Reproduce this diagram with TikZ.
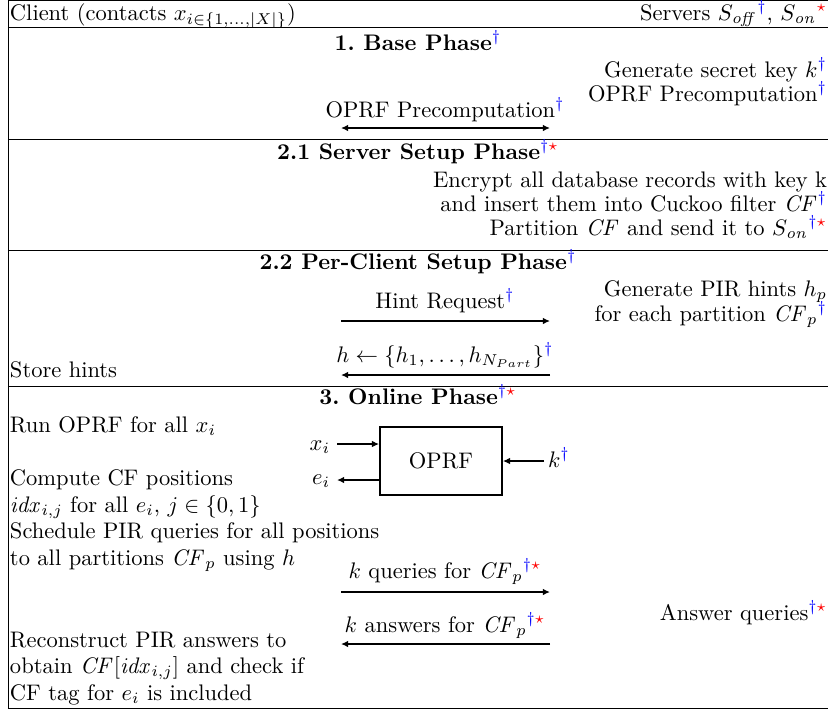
\documentclass[tikz,border=0pt]{standalone}
\usepackage{xcolor}
\usetikzlibrary{arrows.meta}
\newcommand{\mydg}{\ensuremath{^{\textcolor{blue}{\dagger}}}}
\newcommand{\mydgst}{\ensuremath{^{\textcolor{blue}{\dagger}\textcolor{red}{\star}}}}
\newcommand{\myst}{\ensuremath{^{\textcolor{red}{\star}}}}
\tikzset{
  txt/.style={inner sep=0pt, outer sep=0pt},
  rule/.style={line width=0.4pt},
  msg/.style={thick, -{Latex[length=3.2pt,width=3pt]}},
  msgboth/.style={thick, {Latex[length=3.2pt,width=3pt]}-{Latex[length=3.2pt,width=3pt]}},
  box/.style={draw, thick, inner sep=0pt, minimum width=54.2pt, minimum height=30.2pt}
}
\begin{document}
\begin{tikzpicture}[x=0.4444pt, y=-0.4444pt]
\useasboundingbox (0,0) rectangle (828,711);
% table rules
\coordinate (tl) at (8,0.5);
\coordinate (bl) at (8,708);
\draw[rule] (tl) -- (828,0.5);
\draw[rule] (tl) -- (bl);
\draw[rule] (8,27.5) -- (828,27.5);
\draw[rule] (8,139) -- (828,139);
\draw[rule] (8,250) -- (828,250);
\draw[rule] (8,386) -- (828,386);
\draw[rule] (bl) -- (828,708);
% header
\node[txt, anchor=base west] (hc) at (10,20) {Client (contacts $x_{i\in\{1,\ldots,|X|\}}$)};
\node[txt, anchor=base east] (hs) at (827,20) {Servers $S_{\mathit{off}}$\mydg, $S_{\mathit{on}}$\myst};
% 1. Base phase
\node[txt, anchor=base] (t1) at (418,50) {\textbf{1.\ Base Phase}\mydg};
\node[txt, anchor=base east] (s1a) at (827,77) {Generate secret key $k$\mydg};
\node[txt, anchor=base east] (s1b) at (827,101) {OPRF Precomputation\mydg};
\node[txt, anchor=base] (m1) at (445,117) {OPRF Precomputation\mydg};
\coordinate (a1l) at (341,128);
\coordinate (a1r) at (550,128);
\draw[msgboth] (a1l) -- (a1r);
% 2.1 Server setup
\node[txt, anchor=base] (t21) at (418,159) {\textbf{2.1 Server Setup Phase}\mydgst};
\node[txt, anchor=base east] (s21a) at (827,187) {Encrypt all database records with key k};
\node[txt, anchor=base east] (s21b) at (827,211) {and insert them into Cuckoo filter $\mathit{CF}$\mydg};
\node[txt, anchor=base east] (s21c) at (827,235) {Partition $\mathit{CF}$ and send it to $S_{\mathit{on}}$\mydgst};
% 2.2 Per-client setup
\node[txt, anchor=base] (t22) at (418,269) {\textbf{2.2 Per-Client Setup Phase}\mydg};
\node[txt, anchor=base east] (s22a) at (827,296) {Generate PIR hints $h_p$};
\node[txt, anchor=base east] (s22b) at (827,321) {for each partition $\mathit{CF}_p$\mydg};
\node[txt, anchor=base] (m22a) at (445,308) {Hint Request\mydg};
\coordinate (a2l) at (341,321);
\coordinate (a2r) at (550,321);
\draw[msg] (a2l) -- (a2r);
\node[txt, anchor=base] (m22b) at (445,362) {$h\leftarrow\{h_1,\ldots,h_{N_{Part}}\}$\mydg};
\coordinate (a3l) at (341,375);
\coordinate (a3r) at (550,375);
\draw[msg] (a3r) -- (a3l);
\node[txt, anchor=base west] (c22) at (10,377) {Store hints};
% 3. Online phase
\node[txt, anchor=base] (t3) at (418,404) {\textbf{3.\ Online Phase}\mydgst};
\node[txt, anchor=base west] (c3a) at (10,432) {Run OPRF for all $x_i$};
\node[box] (oprf) at (441,461) {OPRF};
\node[txt, anchor=base east] (xi) at (330,450) {$x_i$};
\node[txt, anchor=base east] (ei) at (330,484) {$e_i$};
\node[txt, anchor=base west] (kk) at (548,467) {$k$\mydg};
\coordinate (xin) at (337,444);
\coordinate (eout) at (337,480);
\coordinate (kin) at (544,461);
\draw[msg] (xin) -- (oprf.west |- xin);
\draw[msg] (oprf.west |- eout) -- (eout);
\draw[msg] (kin) -- (oprf.east |- kin);
\node[txt, anchor=base west] (c3b) at (10,485) {Compute CF positions};
\node[txt, anchor=base west] (c3c) at (10,512) {$\mathit{idx}_{i,j}$ for all $e_i$, $j\in\{0,1\}$};
\node[txt, anchor=base west] (c3d) at (10,538) {Schedule PIR queries for all positions};
\node[txt, anchor=base west] (c3e) at (10,565) {to all partitions $\mathit{CF}_p$ using $h$};
\node[txt, anchor=base] (m3a) at (445,578) {$k$ queries for $\mathit{CF}_p$\mydgst};
\coordinate (a4l) at (341,592);
\coordinate (a4r) at (550,592);
\draw[msg] (a4l) -- (a4r);
\node[txt, anchor=base east] (s3) at (827,620) {Answer queries\mydgst};
\node[txt, anchor=base] (m3b) at (445,632) {$k$ answers for $\mathit{CF}_p$\mydgst};
\coordinate (a5l) at (341,644);
\coordinate (a5r) at (550,644);
\draw[msg] (a5r) -- (a5l);
\node[txt, anchor=base west] (c3f) at (10,647) {Reconstruct PIR answers to};
\node[txt, anchor=base west] (c3g) at (10,673) {obtain $\mathit{CF}[\mathit{idx}_{i,j}]$ and check if};
\node[txt, anchor=base west] (c3h) at (10,700) {CF tag for $e_i$ is included};
\end{tikzpicture}
\end{document}
